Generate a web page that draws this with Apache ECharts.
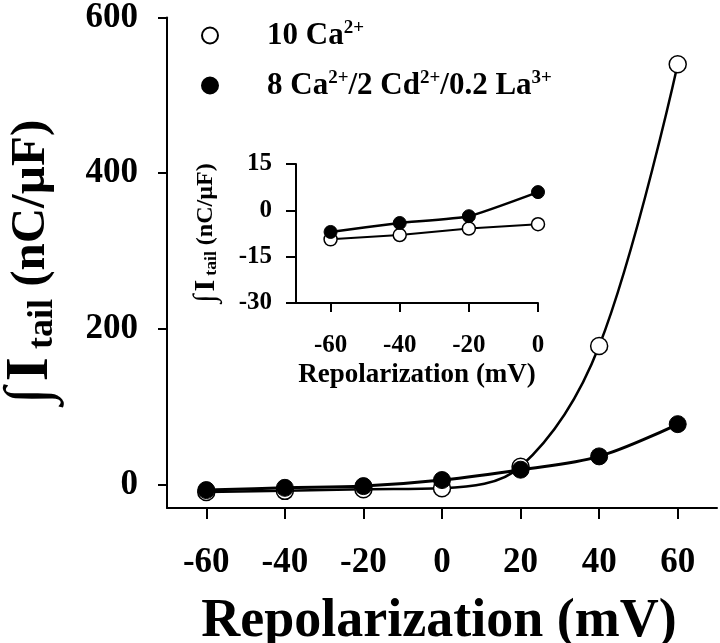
<!DOCTYPE html>
<html>
<head>
<meta charset="utf-8">
<script src="https://cdn.jsdelivr.net/npm/echarts@6/dist/echarts.min.js"></script>
<style>html,body{margin:0;padding:0;background:#fff}#c{width:720px;height:643px}</style>
</head>
<body>
<div id="c"></div>
<script>
// Data
var voltages = [-60, -40, -20, 0, 20, 40, 60];
var ca10 = [-9.4, -8.0, -5.9, -4.5, 23, 178, 540];
var blockers = [-7.0, -4.1, -1.9, 5.9, 19.2, 36.3, 77.7];
var insetVoltages = [-60, -40, -20, 0];
var insetCa10 = [-9.4, -8.0, -5.9, -4.5];
var insetBlockers = [-7.0, -4.1, -1.9, 5.9];
var mainXTicks = [-60, -40, -20, 0, 20, 40, 60];
var mainYTicks = [0, 200, 400, 600];
var insetXTicks = [-60, -40, -20, 0];
var insetYTicks = [-30, -15, 0, 15];
var seriesNames = ['10 Ca', '8 Ca/2 Cd/0.2 La'];

function pairs(xs, ys) { return xs.map(function (x, i) { return [x, ys[i]]; }); }

var FONT = '"Liberation Serif", "Times New Roman", serif';
var chart = echarts.init(document.getElementById('c'));

function axisCommon(fs, margin, tickLen) {
  return {
    axisLine: { show: true, onZero: false, lineStyle: { color: '#000', width: 2 } },
    axisTick: { show: true, length: tickLen, lineStyle: { color: '#000', width: 2 } },
    axisLabel: { color: '#000', fontFamily: FONT, fontWeight: 'bold', fontSize: fs, margin: margin },
    splitLine: { show: false }
  };
}

function mkAxis(gi, min, max, ticks, fs, margin, tickLen) {
  var a = axisCommon(fs, margin, tickLen);
  a.type = 'value'; a.gridIndex = gi; a.min = min; a.max = max;
  a.axisTick.customValues = ticks; a.axisLabel.customValues = ticks;
  return a;
}

var openStyle = { color: '#fff', borderColor: '#000', borderWidth: 1.5 };
var fillStyle = { color: '#000', borderColor: '#000', borderWidth: 1 };

var legendRich = {
  b: { fontFamily: FONT, fontWeight: 'bold', fontSize: 31, color: '#000', lineHeight: 34 },
  sup: { fontFamily: FONT, fontWeight: 'bold', fontSize: 19, color: '#000', padding: [0, 0, 14, 0] }
};

function yTitle(x, y, s) {
  return {
    type: 'text', x: x, y: y, rotation: Math.PI / 2,
    style: {
      text: '{s|∫}{i|I}{sub|tail}{p| (nC/µF)}',
      align: 'center', verticalAlign: 'middle',
      rich: {
        s: { fontFamily: FONT, fontWeight: 'bold', fontSize: 62 * s, fill: '#000', lineHeight: 62 * s },
        i: { fontFamily: FONT, fontWeight: 'bold', fontSize: 62 * s, fill: '#000', padding: [0, 8 * s, 0, 6 * s] },
        sub: { fontFamily: FONT, fontWeight: 'bold', fontSize: 36 * s, fill: '#000', padding: [24 * s, 0, 0, 0] },
        p: { fontFamily: FONT, fontWeight: 'bold', fontSize: 49 * s, fill: '#000' }
      }
    }
  };
}

var option = {
  animation: false,
  backgroundColor: '#fff',
  grid: [
    { left: 167, right: 3, top: 17, bottom: 135 },
    { left: 296, top: 164, width: 242, height: 139 }
  ],
  xAxis: [
    mkAxis(0, -70, 70, mainXTicks, 35, 37, 11),
    mkAxis(1, -70, 0, insetXTicks, 25, 30, 9)
  ],
  yAxis: [
    mkAxis(0, -30, 600, mainYTicks, 35, 29, 9),
    mkAxis(1, -30, 15, insetYTicks, 25, 24, 10)
  ],
  legend: {
    orient: 'vertical', left: 201, top: 19, padding: 0, itemGap: 18,
    itemWidth: 104, itemHeight: 16, icon: 'circle',
    data: seriesNames,
    formatter: function (name) {
      if (name === seriesNames[0]) return '{b|10 Ca}{sup|2+}';
      return '{b|8 Ca}{sup|2+}{b|/2 Cd}{sup|2+}{b|/0.2 La}{sup|3+}';
    },
    textStyle: { rich: legendRich }
  },
  series: [
    {
      name: seriesNames[0], type: 'line', xAxisIndex: 0, yAxisIndex: 0,
      data: pairs(voltages, ca10), smooth: 0.35,
      symbol: 'circle', symbolSize: 17, itemStyle: openStyle,
      lineStyle: { color: '#000', width: 2.5 }, z: 2
    },
    {
      name: seriesNames[1], type: 'line', xAxisIndex: 0, yAxisIndex: 0,
      data: pairs(voltages, blockers), smooth: 0.35,
      symbol: 'circle', symbolSize: 17, itemStyle: fillStyle,
      lineStyle: { color: '#000', width: 3 }, z: 3
    },
    {
      name: 'inset-open', type: 'line', xAxisIndex: 1, yAxisIndex: 1,
      data: pairs(insetVoltages, insetCa10),
      symbol: 'circle', symbolSize: 13, itemStyle: openStyle,
      lineStyle: { color: '#000', width: 2 }, z: 2
    },
    {
      name: 'inset-filled', type: 'line', xAxisIndex: 1, yAxisIndex: 1,
      data: pairs(insetVoltages, insetBlockers), smooth: 0.15,
      symbol: 'circle', symbolSize: 13, itemStyle: fillStyle,
      lineStyle: { color: '#000', width: 2.5 }, z: 3
    }
  ],
  graphic: [
    {
      type: 'text', x: 439, y: 622,
      style: { text: 'Repolarization (mV)', fontFamily: FONT, fontWeight: 'bold', fontSize: 54,
               fill: '#000', align: 'center', verticalAlign: 'middle' }
    },
    {
      type: 'text', x: 417, y: 375,
      style: { text: 'Repolarization (mV)', fontFamily: FONT, fontWeight: 'bold', fontSize: 27,
               fill: '#000', align: 'center', verticalAlign: 'middle' }
    },
    yTitle(31, 262, 1),
    yTitle(206, 233, 0.49)
  ]
};
chart.setOption(option);
</script>
</body>
</html>
